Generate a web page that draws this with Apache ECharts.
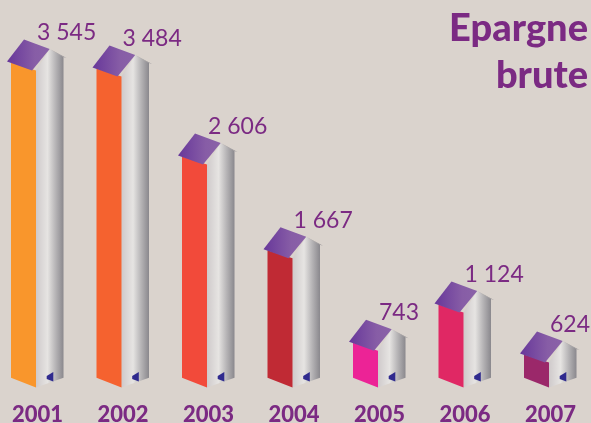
<!DOCTYPE html>
<html><head><meta charset="utf-8">
<style>html,body{margin:0;padding:0;background:#dad3cd}#c{width:591px;height:423px}</style>
<script src="https://cdn.jsdelivr.net/npm/echarts@6/dist/echarts.min.js"></script>
</head><body><div id="c"></div>
<script>
const titleText = 'Epargne\nbrute';
const years = ['2001','2002','2003','2004','2005','2006','2007'];
const values = [3545,3484,2606,1667,743,1124,624];
const valueLabels = ['3 545','3 484','2 606','1 667','743','1 124','624'];
const frontColors = ['#f9962c','#f5622f','#f24a3a','#c02a34','#ec2396','#e02864','#9b286a'];
const axisFloor = 380;
const purple = '#7b2a83';

const chart = echarts.init(document.getElementById('c'), null, {renderer:'canvas'});
const hGrad = (stops) => ({type:'linear',x:0,y:0,x2:1,y2:0,colorStops:stops});
const poly = (points, fill, z2) => ({type:'polygon',shape:{points},style:{fill},z2});

function renderHouse(params, api){
  const i = api.value(0), v = api.value(1);
  const top = api.coord([i, v]);
  const bot = api.coord([i, axisFloor]);
  const x = top[0] - 1.5, y = top[1], b = bot[1] + 0.4;
  const children = [
    poly([[x,y],[x+13.7,y-21.5],[x+27.5,y-13.5],[x+27.5,b-9.6],[x,b]],
      hGrad([{offset:0,color:'#cfcacb'},{offset:.42,color:'#e6e4e2'},{offset:.72,color:'#b5b3b5'},{offset:1,color:'#8a888d'}]),1),
    poly([[x+13.7,y-21.5],[x+30.5,y-12.5],[x+27.5,y-13.5]],'#8a888d',2),
    poly([[x-25,y-8],[x,y],[x,b],[x-25,b-9.6]], frontColors[i], 3),
    poly([[x-29,y-9],[x-12,y-31],[x+13.7,y-21.5],[x-4,y]],
      hGrad([{offset:0,color:'#67379a'},{offset:.65,color:'#875da6'},{offset:1,color:'#8a62a8'}]),4),
    poly([[x+10.7,b-11.5],[x+17.3,b-15.5],[x+17.3,b-6],[x+10.7,b-8.5]],'#2f2a8e',5),
    {type:'text',z2:6,x:top[0]-0.5,y:y-26.5,style:{text:valueLabels[i],fill:purple,font:'400 23px Lato',textAlign:'left',textVerticalAlign:'bottom'}}
  ];
  return {type:'group',children};
}

chart.setOption({
  animation:false,
  backgroundColor:'#dad3cd',
  graphic:[{type:'text',x:588,y:5,style:{text:titleText,fill:purple,align:'right',
    font:'900 38px Lato',lineHeight:47}}],
  grid:{left:37.5,width:513,top:25,height:362,containLabel:false,outerBoundsMode:'none'},
  xAxis:{type:'category',boundaryGap:false,data:years,axisLine:{show:false},axisTick:{show:false},
    axisLabel:{color:purple,fontFamily:'Lato',fontWeight:900,fontSize:22,margin:17,interval:0,showMinLabel:true,showMaxLabel:true}},
  yAxis:{type:'value',min:axisFloor,max:4000,show:false,splitLine:{show:false}},
  series:[{type:'custom',renderItem:renderHouse,clip:false,
    encode:{x:0,y:1},data:values.map((v,i)=>[i,v])}]
});
</script></body></html>
